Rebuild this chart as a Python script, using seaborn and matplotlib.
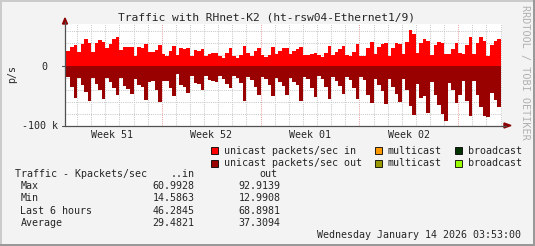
import matplotlib
matplotlib.use("Agg")
import numpy as np
import pandas as pd
import seaborn as sns
import matplotlib.pyplot as plt
from matplotlib.patches import Rectangle, Polygon

# ---------------- data (kpackets/sec, 6-hour steps) ----------------
in_vals = [26, 33, 36, 24, 38, 46, 40, 24, 40, 45,
           41, 31, 38, 47, 50, 28, 33, 33, 33, 18,
           33, 31, 38, 24, 24, 28, 36, 21, 18, 26,
           34, 19, 31, 29, 31, 18, 28, 26, 29, 18,
           21, 23, 23, 18, 15, 23, 31, 18, 14.6, 19,
           34, 23, 18, 26, 31, 19, 16, 19, 33, 21,
           26, 31, 31, 21, 26, 29, 33, 19, 19, 21,
           23, 19, 16, 23, 34, 19, 24, 29, 34, 19,
           18, 24, 38, 18, 18, 31, 41, 21, 33, 38,
           40, 17, 31, 40, 38, 21, 41, 61, 55, 23,
           40, 46, 44, 19, 36, 41, 40, 21, 21, 29,
           40, 23, 21, 36, 50, 21, 40, 50, 44, 17,
           36, 43, 46]
out_vals = [18, 35, 54, 20, 31, 43, 59, 20, 30, 40,
            55, 20, 27, 36, 48, 20, 33, 38, 46, 21,
            31, 35, 57, 27, 24, 40, 60, 24, 24, 36,
            50, 13, 31, 34, 45, 16, 28, 30, 40, 16,
            23, 25, 27, 16, 21, 30, 37, 16, 20, 28,
            59, 18, 23, 35, 49, 18, 21, 32, 50, 20,
            27, 33, 49, 20, 27, 32, 59, 18, 21, 37,
            52, 16, 21, 35, 55, 18, 25, 33, 47, 18,
            23, 37, 55, 18, 23, 49, 62, 21, 31, 42,
            63, 22, 35, 47, 60, 22, 40, 67, 82, 30,
            54, 50, 79, 27, 49, 66, 81, 93, 28, 40,
            62, 49, 25, 59, 84, 25, 49, 69, 84, 86,
            45, 56, 69]

week_labels = ["Week 51", "Week 52", "Week 01", "Week 02"]
ytick_labels = ["0", "-100 k"]
legend_rows = [["unicast packets/sec in", "multicast", "broadcast"],
               ["unicast packets/sec out", "multicast", "broadcast"]]
legend_colors = [["#ff0000", "#ff9900", "#003300"],
                 ["#990000", "#999900", "#99ff00"]]
stat_names = ["Max", "Min", "Last 6 hours", "Average"]
stat_in = ["60.9928", "14.5863", "46.2845", "29.4821"]
stat_out = ["92.9139", "12.9908", "68.8981", "37.3094"]

title = "Traffic with RHnet-K2 (ht-rsw04-Ethernet1/9)"
date_text = "Wednesday January 14 2026 03:53:00"

# ---------------- styling ----------------
sns.set_style("white")
plt.rcParams["font.family"] = ["DejaVu Sans Mono", "DejaVu Sans"]

W, H = 535, 246
BG = "#f3f3f3"
fig = plt.figure(figsize=(W / 100, H / 100), dpi=100, facecolor=BG)


def fx(x):
    return x / W


def fy(y):
    return 1 - y / H


FS = 7.2
ax = fig.add_axes([fx(65), fy(125.5), 437 / W, 101.5 / H])
ax.set_facecolor("white")

# grid
day_lines = [3 + 4 * n for n in range(31) if 3 + 4 * n < 123.4]
week_lines = [27, 55, 83, 111]
for d in day_lines:
    if d not in week_lines:
        ax.axvline(d, color="#c4c4c4", lw=0.7, ls=(0, (1, 1.2)), zorder=0)
for d in week_lines:
    ax.axvline(d, color="#e89a9a", lw=0.7, ls=(0, (1, 1.2)), zorder=0)
for g in [-80, -60, -40, -20, 20, 40, 60]:
    ax.axhline(g, color="#c4c4c4", lw=0.7, ls=(0, (1, 1.2)), zorder=0)
ax.axhline(0, color="#e89a9a", lw=0.7, ls=(0, (1, 1.2)), zorder=0)

df = pd.DataFrame({"slot": np.arange(len(in_vals)) + 0.5,
                   "pin": np.array(in_vals, dtype=float),
                   "pout": -np.array(out_vals, dtype=float)})

sns.barplot(data=df, x="slot", y="pin", native_scale=True, width=1,
            color="#ff0000", saturation=1, linewidth=0, errorbar=None,
            ax=ax, zorder=2, antialiased=False)
sns.barplot(data=df, x="slot", y="pout", native_scale=True, width=1,
            color="#990000", saturation=1, linewidth=0, errorbar=None,
            ax=ax, zorder=2, antialiased=False)

ax.set_xlim(-0.42, 123.4)
ax.set_ylim(-100, 72)
ax.set_xticks([])
ax.set_yticks([])
ax.set_xlabel("")
ax.set_ylabel("")
for s in ax.spines.values():
    s.set_visible(False)

# axes lines + arrows (figure coordinates)
axis_col = "#505050"
arrow_col = "#8b0000"
fig.add_artist(plt.Line2D([fx(65), fx(65)], [fy(125.5), fy(22)], color=axis_col, lw=0.9))
fig.add_artist(plt.Line2D([fx(65), fx(506)], [fy(125.5), fy(125.5)], color=axis_col, lw=0.9))
fig.add_artist(Polygon([[fx(62.5), fy(24)], [fx(67.5), fy(24)], [fx(65), fy(18)]],
                       closed=True, color=arrow_col, transform=fig.transFigure))
fig.add_artist(Polygon([[fx(504), fy(123)], [fx(504), fy(128)], [fx(511), fy(125.5)]],
                       closed=True, color=arrow_col, transform=fig.transFigure))
# small ticks
for ty in [66.3, 125.5]:
    fig.add_artist(plt.Line2D([fx(62), fx(65)], [fy(ty), fy(ty)], color=axis_col, lw=0.8))

# y labels
fig.text(fx(47), fy(66.5), ytick_labels[0], ha="right", va="center", fontsize=FS)
fig.text(fx(58.5), fy(126), ytick_labels[1], ha="right", va="center", fontsize=FS)
fig.text(fx(12), fy(74), "p/s", rotation=90, ha="center", va="center", fontsize=FS)

# week labels
for lab, u in zip(week_labels, [13, 41, 69, 97]):
    px = 66.5 + u * 3.53
    fig.text(fx(px), fy(135.5), lab, ha="center", va="center", fontsize=FS)

# title
fig.text(fx(266), fy(17), title, ha="center", va="center", fontsize=8.1)

# watermark
fig.text(fx(525), fy(72), "RRDTOOL / TOBI OETIKER", rotation=270, ha="center",
         va="center", fontsize=7.3, color="#b0b0b0")

# legend
sq_x = [211, 374.5, 454.7]
tx_x = [223.5, 388, 468]
for r, yy in enumerate([150.7, 163]):
    for c in range(3):
        fig.add_artist(Rectangle((fx(sq_x[c]), fy(yy + 3.5)), 7 / W, 7 / H,
                                 facecolor=legend_colors[r][c], edgecolor="black",
                                 lw=0.6, transform=fig.transFigure))
        fig.text(fx(tx_x[c]), fy(yy), legend_rows[r][c], ha="left", va="center", fontsize=FS)

# stats table
fig.text(fx(15.4), fy(174.3), "Traffic - Kpackets/sec", ha="left", va="center", fontsize=FS)
fig.text(fx(194.5), fy(174.3), "..in", ha="right", va="center", fontsize=FS)
fig.text(fx(277.5), fy(174.3), "out", ha="right", va="center", fontsize=FS)
for i, yy in enumerate([186.3, 198.3, 210.8, 223.3]):
    fig.text(fx(20.5), fy(yy), stat_names[i], ha="left", va="center", fontsize=FS)
    fig.text(fx(194.5), fy(yy), stat_in[i], ha="right", va="center", fontsize=FS)
    fig.text(fx(280.5), fy(yy), stat_out[i], ha="right", va="center", fontsize=FS)

fig.text(fx(521), fy(235.2), date_text, ha="right", va="center", fontsize=FS)

# frame shading
fig.add_artist(Rectangle((0, fy(2)), 1, 2 / H, color="#cbcbcb", transform=fig.transFigure, lw=0))
fig.add_artist(Rectangle((0, 0), 2 / W, 1, color="#cbcbcb", transform=fig.transFigure, lw=0))
fig.add_artist(Rectangle((0, 0), 1, 2 / H, color="#999999", transform=fig.transFigure, lw=0))
fig.add_artist(Rectangle((1 - 2 / W, 0), 2 / W, 1, color="#999999", transform=fig.transFigure, lw=0))

fig.savefig("out.png", dpi=100, facecolor=BG)
